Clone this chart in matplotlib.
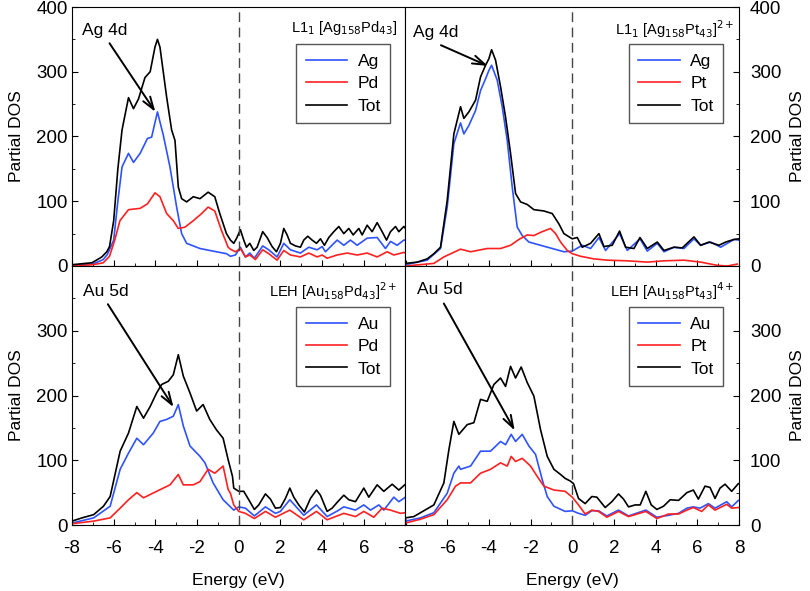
import matplotlib
matplotlib.use("Agg")
import matplotlib.pyplot as plt
from matplotlib.ticker import MultipleLocator

plt.rcParams['font.family'] = ['Liberation Sans', 'DejaVu Sans']

# ---------------- data ----------------
# Top-left: L1_1 [Ag158Pd43]
tl_tot_e = [-8.0, -7.04, -6.57, -6.33, -6.2, -6.0, -5.8, -5.6, -5.29, -5.05, -4.81, -4.5, -4.25, -4.02, -3.9, -3.78,
            -3.46, -3.22, -3.06, -2.9, -2.74, -2.5, -2.18, -1.86, -1.47, -1.15, -0.91, -0.59, -0.4, -0.24, -0.1,
            0.08, 0.24, 0.37, 0.53, 0.72, 0.88, 1.15, 1.36, 1.6, 1.81, 2.0, 2.16, 2.32, 2.48, 2.72, 2.96, 3.12,
            3.31, 3.52, 3.73, 3.92, 4.11, 4.32, 4.56, 4.8, 5.04, 5.28, 5.49, 5.76, 5.92, 6.16, 6.4, 6.64, 6.88,
            7.09, 7.28, 7.52, 7.68, 7.92, 8.0]
tl_tot = [2, 5, 14, 22, 30, 70, 150, 210, 260, 243, 258, 291, 300, 338, 350, 338, 261, 210, 194, 122, 104, 99, 107,
          104, 114, 107, 81, 50, 40, 35, 43, 56, 40, 29, 35, 24, 29, 53, 44, 30, 22, 35, 58, 48, 35, 31, 29, 40,
          46, 40, 35, 42, 32, 44, 53, 61, 50, 58, 48, 58, 48, 63, 53, 67, 53, 40, 53, 61, 53, 61, 58]
tl_ag_e = [-8.0, -7.0, -6.5, -6.3, -6.0, -5.8, -5.6, -5.29, -5.05, -4.73, -4.38, -4.18, -3.9, -3.62, -3.3, -2.98,
           -2.74, -2.5, -1.86, -1.23, -0.59, -0.4, -0.16, 0.08, 0.32, 0.53, 0.75, 1.15, 1.44, 1.84, 2.16, 2.48,
           2.96, 3.36, 3.76, 4.0, 4.16, 4.72, 5.04, 5.36, 5.68, 6.16, 6.64, 7.04, 7.28, 7.6, 7.92, 8.0]
tl_ag = [1, 3, 10, 18, 40, 100, 153, 174, 160, 174, 197, 199, 238, 202, 153, 91, 50, 35, 27, 23, 19, 15, 17, 29,
         14, 20, 12, 31, 25, 14, 35, 25, 20, 29, 25, 30, 22, 40, 32, 40, 32, 43, 44, 27, 38, 32, 40, 40]
tl_pd_e = [-8.0, -7.0, -6.5, -6.2, -5.95, -5.7, -5.29, -4.73, -4.38, -4.02, -3.78, -3.46, -3.14, -2.9, -2.58, -2.18,
           -1.78, -1.47, -1.15, -0.83, -0.51, -0.4, -0.16, 0.08, 0.32, 0.53, 0.8, 1.15, 1.44, 1.84, 2.16, 2.48,
           2.96, 3.36, 3.76, 4.0, 4.24, 4.72, 5.2, 5.68, 6.16, 6.64, 7.12, 7.44, 7.92, 8.0]
tl_pd = [0, 2, 5, 15, 40, 70, 87, 89, 96, 113, 107, 81, 70, 58, 60, 70, 81, 91, 85, 55, 29, 26, 22, 27, 14, 17, 10,
         25, 19, 9, 24, 17, 14, 20, 14, 17, 12, 17, 20, 17, 20, 14, 22, 17, 21, 20]

# Top-right: L1_1 [Ag158Pt43]2+
tr_tot_e = [-8.0, -7.44, -6.96, -6.64, -6.32, -6.0, -5.68, -5.36, -5.2, -4.96, -4.64, -4.4, -4.16, -4.0, -3.87,
            -3.68, -3.44, -3.2, -2.96, -2.72, -2.48, -2.16, -1.84, -1.36, -0.96, -0.64, -0.4, 0.0, 0.24, 0.48,
            0.88, 1.28, 1.52, 1.92, 2.27, 2.56, 2.96, 3.25, 3.6, 4.08, 4.4, 4.88, 5.28, 5.84, 6.16, 6.56, 7.04,
            7.36, 7.76, 8.0]
tr_tot = [4, 6, 11, 19, 29, 101, 204, 246, 228, 238, 256, 292, 310, 320, 334, 318, 277, 230, 174, 112, 99, 95, 87,
          85, 81, 65, 50, 42, 44, 29, 35, 50, 30, 32, 54, 29, 27, 44, 27, 37, 24, 29, 28, 45, 32, 37, 32, 37, 41, 42]
tr_ag_e = [-8.0, -6.96, -6.32, -6.0, -5.68, -5.36, -5.2, -4.96, -4.64, -4.4, -4.16, -4.0, -3.87, -3.6, -3.36,
           -3.12, -2.88, -2.64, -2.4, -2.08, -1.52, -0.96, -0.4, 0.0, 0.48, 0.88, 1.28, 1.6, 2.27, 2.64, 3.25, 3.6,
           4.08, 4.4, 4.88, 5.36, 5.84, 6.16, 6.64, 7.12, 7.44, 7.76, 8.0]
tr_ag = [2, 9, 27, 91, 189, 221, 204, 217, 240, 271, 289, 302, 310, 287, 246, 194, 122, 60, 47, 37, 32, 27, 22, 23,
         32, 27, 44, 24, 50, 24, 42, 23, 35, 22, 29, 27, 42, 32, 37, 29, 35, 41, 40]
tr_pt_e = [-8.0, -6.64, -6.16, -5.36, -4.88, -4.08, -3.44, -2.96, -2.56, -2.16, -1.84, -1.52, -1.04, -0.8, -0.56,
           -0.24, 0.0, 0.4, 1.04, 1.68, 2.64, 3.6, 4.4, 5.36, 6.16, 6.96, 7.44, 7.92]
tr_pt = [0, 4, 14, 26, 22, 27, 27, 32, 41, 48, 47, 52, 58, 50, 37, 24, 19, 15, 11, 9, 8, 6, 8, 9, 6, 1, 0, 3]

# Bottom-left: LEH [Au158Pd43]2+
bl_tot_e = [-8.0, -7.52, -6.96, -6.49, -6.17, -5.69, -5.29, -4.89, -4.57, -4.25, -3.94, -3.7, -3.38, -3.14, -2.9,
            -2.66, -2.34, -2.02, -1.71, -1.39, -1.07, -0.75, -0.51, -0.3, -0.24, 0.0, 0.24, 0.48, 0.75, 0.96,
            1.28, 1.52, 1.76, 2.0, 2.24, 2.45, 2.64, 2.88, 3.15, 3.44, 3.73, 3.92, 4.24, 4.48, 4.75, 5.04, 5.28,
            5.6, 6.0, 6.24, 6.64, 6.96, 7.36, 7.68, 8.0]
bl_tot = [6, 11, 16, 29, 44, 114, 142, 183, 165, 183, 204, 217, 222, 232, 263, 230, 204, 176, 186, 163, 147, 134,
          101, 75, 57, 52, 52, 39, 24, 31, 48, 40, 26, 27, 41, 57, 43, 31, 20, 41, 54, 46, 21, 26, 36, 46, 39,
          36, 57, 43, 62, 52, 63, 54, 63]
bl_au_e = [-8.0, -6.96, -6.17, -5.69, -5.29, -4.89, -4.57, -4.1, -3.78, -3.46, -3.14, -2.9, -2.66, -2.34, -1.86,
           -1.62, -1.23, -0.75, -0.24, 0.0, 0.32, 0.75, 1.28, 1.76, 2.0, 2.45, 3.12, 3.73, 4.24, 4.75, 5.04, 5.6,
           6.0, 6.32, 6.72, 6.96, 7.44, 7.68, 8.0]
bl_au = [3, 11, 29, 86, 111, 134, 124, 142, 160, 163, 168, 186, 153, 122, 106, 96, 65, 39, 23, 28, 26, 14, 28, 18,
         21, 39, 15, 31, 13, 22, 28, 23, 31, 23, 31, 23, 43, 36, 43]
bl_pd_e = [-8.0, -6.96, -6.17, -5.69, -5.29, -4.89, -4.57, -3.94, -3.3, -2.9, -2.66, -2.18, -1.86, -1.47, -1.15,
           -0.75, -0.51, -0.4, -0.24, 0.0, 0.32, 0.75, 1.28, 1.76, 2.45, 3.12, 3.73, 4.24, 5.04, 5.6, 6.0, 6.48,
           6.88, 7.28, 7.76, 8.0]
bl_pd = [2, 6, 11, 26, 39, 50, 42, 52, 62, 78, 62, 62, 67, 86, 80, 91, 55, 49, 31, 21, 18, 10, 21, 12, 23, 8, 21,
         8, 18, 13, 21, 12, 26, 23, 18, 19]

# Bottom-right: LEH [Au158Pt43]4+
br_tot_e = [-8.0, -7.6, -7.28, -6.64, -6.16, -5.92, -5.68, -5.44, -5.04, -4.72, -4.4, -4.08, -3.76, -3.44, -3.2,
            -2.96, -2.72, -2.45, -2.16, -1.84, -1.52, -1.2, -0.88, -0.56, -0.34, -0.1, 0.06, 0.3, 0.62, 0.94,
            1.18, 1.58, 1.9, 2.22, 2.46, 2.7, 3.02, 3.26, 3.53, 3.79, 4.06, 4.38, 4.7, 5.1, 5.5, 5.81, 6.05, 6.37,
            6.61, 6.85, 7.09, 7.33, 7.65, 7.97, 8.0]
br_tot = [11, 13, 19, 31, 65, 116, 160, 140, 155, 158, 194, 191, 217, 227, 214, 245, 227, 244, 220, 199, 147, 106,
          86, 78, 72, 68, 64, 41, 33, 44, 43, 27, 36, 48, 40, 28, 31, 31, 52, 31, 24, 29, 39, 38, 50, 54, 40, 60,
          58, 41, 57, 63, 52, 64, 64]
br_au_e = [-8.0, -7.28, -6.64, -6.0, -5.68, -5.44, -5.36, -4.88, -4.4, -3.92, -3.44, -3.2, -2.93, -2.72, -2.4,
           -2.08, -1.76, -1.44, -1.2, -0.88, -0.34, 0.0, 0.3, 0.62, 0.94, 1.26, 1.66, 2.22, 2.7, 3.53, 4.06, 4.62,
           5.1, 5.5, 5.81, 6.13, 6.53, 6.85, 7.41, 7.65, 7.97, 8.0]
br_au = [6, 11, 19, 49, 80, 91, 86, 91, 114, 114, 129, 124, 140, 129, 140, 122, 109, 70, 44, 29, 21, 22, 18, 15,
         22, 22, 14, 23, 14, 23, 12, 15, 18, 26, 28, 26, 33, 26, 36, 28, 38, 38]
br_pt_e = [-8.0, -7.28, -6.64, -6.0, -5.6, -5.36, -4.88, -4.4, -3.92, -3.44, -3.12, -2.93, -2.72, -2.4, -2.0,
           -1.68, -1.36, -0.88, -0.34, 0.0, 0.3, 0.62, 0.94, 1.26, 1.66, 2.22, 2.7, 3.53, 4.06, 4.62, 5.1, 5.5,
           5.81, 6.21, 6.53, 6.85, 7.41, 7.65, 7.97, 8.0]
br_pt = [3, 9, 16, 39, 60, 65, 65, 80, 86, 96, 91, 106, 98, 103, 91, 75, 60, 54, 52, 43, 31, 17, 23, 21, 12, 21,
         13, 21, 10, 17, 17, 23, 27, 21, 31, 23, 32, 26, 27, 27]

titles = [r"L1$_1$ [Ag$_{158}$Pd$_{43}$]", r"L1$_1$ [Ag$_{158}$Pt$_{43}$]$^{2+}$",
          r"LEH [Au$_{158}$Pd$_{43}$]$^{2+}$", r"LEH [Au$_{158}$Pt$_{43}$]$^{4+}$"]
host_labels = ["Ag", "Ag", "Au", "Au"]
guest_labels = ["Pd", "Pt", "Pd", "Pt"]
peak_labels = ["Ag 4d", "Ag 4d", "Au 5d", "Au 5d"]
x_tick_values = [-8, -6, -4, -2, 0, 2, 4, 6, 8]
x_tick_left = ["-8", "-6", "-4", "-2", "0", "2", "4", "6", ""]
x_tick_right = ["-8", "-6", "-4", "-2", "0", "2", "4", "6", "8"]
# arrow (tail, head) in data units
arrows = [((-6.2, 344), (-4.0, 238)), ((-6.3, 341), (-4.05, 309)),
          ((-6.28, 341), (-3.13, 182)), ((-6.16, 342), (-2.76, 146))]
text_pos = [(-7.5, 364), (-7.65, 361), (-7.47, 360), (-7.47, 363)]

panels = [
    (tl_ag_e, tl_ag, tl_pd_e, tl_pd, tl_tot_e, tl_tot),
    (tr_ag_e, tr_ag, tr_pt_e, tr_pt, tr_tot_e, tr_tot),
    (bl_au_e, bl_au, bl_pd_e, bl_pd, bl_tot_e, bl_tot),
    (br_au_e, br_au, br_pt_e, br_pt, br_tot_e, br_tot),
]

BLUE = '#2f52ff'
RED = '#ff2020'
TICK_FS = 13.5
LABEL_FS = 12.5

fig = plt.figure(figsize=(8.1, 5.91), dpi=100)
gs = fig.add_gridspec(2, 2, left=72/810, right=739/810, top=1-7/591, bottom=1-525/591, hspace=0, wspace=0)

for i, (he, hv, ge, gv, te, tv) in enumerate(panels):
    r, c = divmod(i, 2)
    ax = fig.add_subplot(gs[r, c])
    ax.plot(he, hv, color=BLUE, lw=1.2, label=host_labels[i])
    ax.plot(ge, gv, color=RED, lw=1.2, label=guest_labels[i])
    ax.plot(te, tv, color='black', lw=1.2, label="Tot")
    ax.axvline(0, color='#444444', lw=1.0, dashes=(7, 4))
    ax.set_xlim(-8, 8)
    ax.set_ylim(0, 400)
    ax.xaxis.set_minor_locator(MultipleLocator(1))
    if r == 0:
        ax.set_yticks([0, 100, 200, 300, 400])
    else:
        ax.set_yticks([0, 100, 200, 300])
    ax.yaxis.set_minor_locator(MultipleLocator(50))
    ax.tick_params(which='both', direction='in', labelsize=TICK_FS, top=False)
    ax.tick_params(which='major', length=4)
    ax.tick_params(which='minor', length=2.5)
    ax.set_xticks(x_tick_values)
    if c == 0:
        ax.tick_params(which='both', left=True, right=False, labelleft=True, labelright=False)
        ax.tick_params(axis='y', pad=3)
        ax.set_ylabel("Partial DOS", fontsize=LABEL_FS, labelpad=9)
    else:
        ax.tick_params(which='both', left=False, right=True, labelleft=False, labelright=True)
        ax.tick_params(axis='y', pad=8)
        ax.yaxis.set_label_position('right')
        ax.set_ylabel("Partial DOS", fontsize=LABEL_FS, labelpad=6)
    if r == 0:
        ax.tick_params(which='both', labelbottom=False)
    else:
        ax.set_xticklabels(x_tick_left if c == 0 else x_tick_right)
        ax.set_xlabel("Energy (eV)", fontsize=LABEL_FS, labelpad=11)
    ax.tick_params(axis='x', pad=11)
    ax.text(0.975 if c == 0 else 0.985, 0.955 if r == 0 else 0.945, titles[i], transform=ax.transAxes,
            ha='right', va='top', fontsize=10.5)
    ax.text(text_pos[i][0], text_pos[i][1], peak_labels[i], ha='left', va='center', fontsize=12.5)
    (tx, ty), (hx, hy) = arrows[i]
    ax.annotate('', xy=(hx, hy), xytext=(tx, ty),
                arrowprops=dict(arrowstyle='->,head_length=0.9,head_width=0.3', lw=1.4, color='black',
                                shrinkA=0, shrinkB=0))
    leg = ax.legend(loc='upper right', bbox_to_anchor=(0.955 if c == 0 else 0.952, 0.857 if r == 0 else 0.842),
                    borderaxespad=0, fontsize=12.5, handlelength=2.4, labelspacing=0.42, borderpad=0.55,
                    handletextpad=0.6, fancybox=False, framealpha=1, edgecolor='#555555')
    leg.get_frame().set_linewidth(1.0)
    for lh in leg.get_lines():
        lh.set_linewidth(1.2)

fig.savefig("out.png", dpi=100)
